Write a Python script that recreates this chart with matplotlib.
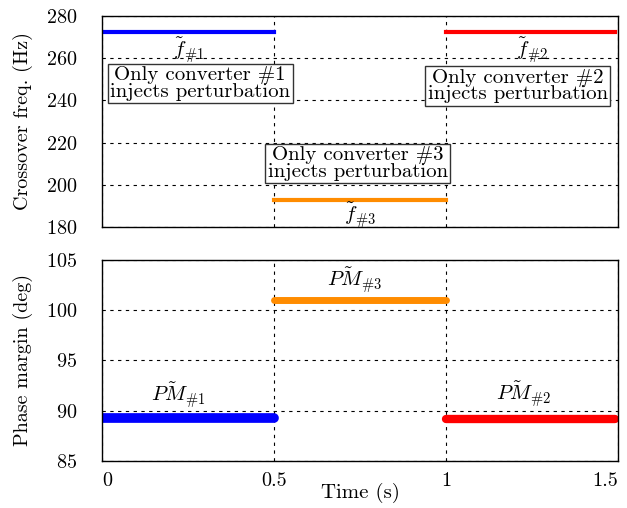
import matplotlib
matplotlib.use("Agg")
import matplotlib.pyplot as plt

plt.rcParams['font.family'] = ['cmr10', 'DejaVu Serif']
plt.rcParams['mathtext.fontset'] = 'cm'
plt.rcParams['axes.formatter.use_mathtext'] = True
plt.rcParams['font.size'] = 15

# segments: (t_start, t_end)
t_seg = [(0.0, 0.5), (0.5, 1.0), (1.0, 1.49)]
colors = ['#0000ff', '#ff8c00', '#ff0000']

# crossover frequency (Hz) for converters #1, #3, #2
fc = [272.5, 193.0, 272.5]
fc_labels = [r'$\tilde{f}_{\#1}$', r'$\tilde{f}_{\#3}$', r'$\tilde{f}_{\#2}$']
fc_label_xy = [(0.25, 263.5), (0.75, 185.5), (1.25, 263.5)]

# phase margin (deg)
pm = [89.3, 101.0, 89.2]
pm_labels = [r'$\tilde{PM}_{\#1}$', r'$\tilde{PM}_{\#3}$', r'$\tilde{PM}_{\#2}$']
pm_label_xy = [(0.22, 91.5), (0.735, 103.0), (1.225, 91.6)]

boxes = ['Only converter #1\ninjects perturbation',
         'Only converter #3\ninjects perturbation',
         'Only converter #2\ninjects perturbation']
box_xy = [(0.285, 248.0), (0.743, 210.0), (1.208, 246.7)]

xticks = [0, 0.5, 1, 1.5]
xticklabels = ['0', '0.5', '1', '1.5']

fig = plt.figure(figsize=(6.27, 5.08), dpi=100)
ax1 = fig.add_axes([0.163, 0.553, 0.823, 0.416])
ax2 = fig.add_axes([0.163, 0.093, 0.823, 0.395])

for ax in (ax1, ax2):
    ax.set_xlim(0, 1.5)
    ax.set_xticks(xticks)
    ax.grid(True, color='black', linestyle=(0, (3, 4)), linewidth=0.8)
    ax.tick_params(axis='y', length=0, pad=18, labelsize=14.5)
    ax.tick_params(axis='x', length=0, pad=8, labelsize=14.5)
    for sp in ax.spines.values():
        sp.set_linewidth(1.0)

ax1.set_ylim(180, 280)
ax1.set_yticks([180, 200, 220, 240, 260, 280])
ax1.set_xticklabels([])
ax1.set_ylabel('Crossover freq. (Hz)', fontsize=14.5)
ax1.yaxis.set_label_coords(-0.135, 0.5)
for (a, b), v, c in zip(t_seg, fc, colors):
    ax1.plot([a, b], [v, v], color=c, linewidth=3)
for (x, y), s in zip(fc_label_xy, fc_labels):
    ax1.text(x, y, s, ha='center', va='center')
for (x, y), s in zip(box_xy, boxes):
    ax1.text(x, y, s, ha='center', va='center', linespacing=0.9,
             bbox=dict(boxstyle='square,pad=0.12', facecolor='white',
                       edgecolor='#333333', linewidth=1.0))

ax2.set_ylim(85, 105)
ax2.set_yticks([85, 90, 95, 100, 105])
ax2.set_xticklabels(xticklabels)
labels = ax2.get_xticklabels()
labels[0].set_ha('left')
labels[-1].set_ha('right')
ax2.set_xlabel('Time (s)')
ax2.xaxis.set_label_coords(0.5, -0.11)
ax2.set_ylabel('Phase margin (deg)', fontsize=14.5)
ax2.yaxis.set_label_coords(-0.135, 0.5)
pm_lw = [7, 5, 6]
for (a, b), v, c, lw in zip(t_seg, pm, colors, pm_lw):
    ax2.plot([a, b], [v, v], color=c, linewidth=lw, solid_capstyle='round')
for (x, y), s in zip(pm_label_xy, pm_labels):
    ax2.text(x, y, s, ha='center', va='center')

fig.savefig('out.png', dpi=100)
